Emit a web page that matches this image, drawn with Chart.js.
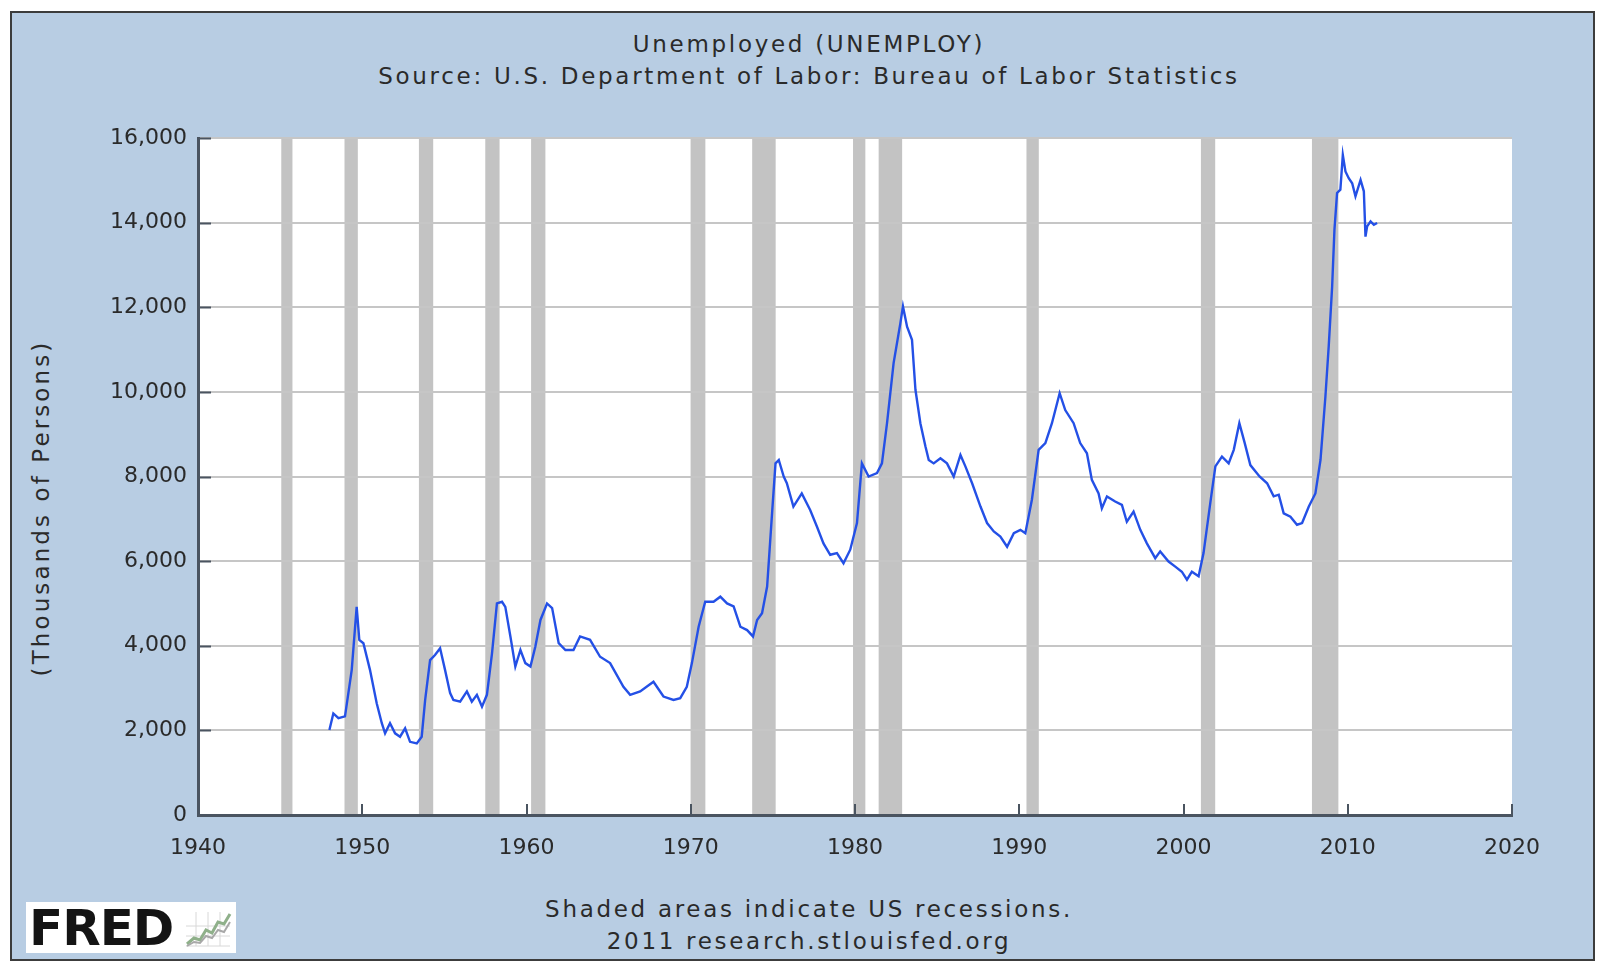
<!DOCTYPE html>
<html>
<head>
<meta charset="utf-8">
<script src="https://cdn.jsdelivr.net/npm/chart.js@4.4.0/dist/chart.umd.min.js"></script>
<style>
  html, body { margin: 0; padding: 0; background: #fff; }
  body { width: 1598px; height: 963px; position: relative; overflow: hidden;
         font-family: "DejaVu Sans", Verdana, sans-serif; color: #2a2a2a; }
  #frame { position: absolute; left: 10px; top: 11px; width: 1585px; height: 950px;
           background: #b8cde3; border: 2px solid #3c3c3c; box-sizing: border-box; }
  canvas { position: absolute; left: 0; top: 0; }
  .txt { position: absolute; left: 0; width: 1618px; text-align: center; font-size: 23px;
         line-height: 28px; letter-spacing: 2.7px; white-space: nowrap; color: #2a2a2a; }
  #ytitle { position: absolute; left: -159px; top: 494px; width: 400px; height: 28px; line-height: 28px;
            text-align: center; font-size: 23px; letter-spacing: 3.1px; white-space: nowrap;
            transform: rotate(-90deg); color: #2a2a2a; }
  #logo { position: absolute; left: 26px; top: 902px; width: 210px; height: 51px; background: #fff; }
  #logo span { position: absolute; left: 3px; top: -4px; font-family: "DejaVu Sans", sans-serif;
               font-weight: bold; font-size: 50px; letter-spacing: -1px; color: #141414; line-height: 60px; }
  #logo svg { position: absolute; left: 158px; top: 6px; }
</style>
</head>
<body>
<div id="frame"></div>
<div class="txt" style="top:30px">Unemployed (UNEMPLOY)</div>
<div class="txt" style="top:62px">Source: U.S. Department of Labor: Bureau of Labor Statistics</div>
<div class="txt" style="top:895px">Shaded areas indicate US recessions.</div>
<div class="txt" style="top:927px">2011 research.stlouisfed.org</div>
<div id="ytitle">(Thousands of Persons)</div>
<div id="logo"><span>FRED</span>
  <svg width="48" height="40" viewBox="0 0 48 40">
    <path d="M2 38 H46 M2 28 H46 M2 18 H46 M12 4 V38 M24 4 V38 M36 4 V38" stroke="#d8d8d8" stroke-width="1"/>
    <polyline points="3,36 10,30 16,32 22,22 28,25 34,14 40,16 46,6" fill="none" stroke="#8fb08a" stroke-width="3"/>
    <polyline points="3,38 10,34 16,35 22,28 28,30 34,22 40,24 46,14" fill="none" stroke="#a8a8a8" stroke-width="2"/>
  </svg>
</div>
<canvas id="c" width="1598" height="963"></canvas>
<script>
// Unemployed persons, thousands (decimal year)
let years = [
  1948.00, 1948.24, 1948.55, 1948.95, 1949.36, 1949.66, 1949.82, 1950.07, 1950.47, 1950.88,
  1951.19, 1951.39, 1951.69, 1952.00, 1952.30, 1952.61, 1952.91, 1953.32, 1953.62, 1953.83,
  1954.13, 1954.43, 1954.74, 1955.04, 1955.35, 1955.55, 1955.96, 1956.37, 1956.67, 1956.98,
  1957.29, 1957.59, 1957.90, 1958.20, 1958.51, 1958.71, 1959.02, 1959.32, 1959.63, 1959.93,
  1960.24, 1960.54, 1960.85, 1961.25, 1961.56, 1961.96, 1962.37, 1962.86, 1963.26, 1963.87,
  1964.48, 1965.09, 1965.90, 1966.31, 1966.92, 1967.73, 1968.34, 1968.95, 1969.36, 1969.76,
  1970.07, 1970.48, 1970.88, 1971.39, 1971.80, 1972.21, 1972.61, 1973.02, 1973.43, 1973.79,
  1974.04, 1974.34, 1974.65, 1974.95, 1975.16, 1975.36, 1975.66, 1975.85, 1976.25, 1976.76,
  1977.27, 1977.68, 1978.08, 1978.49, 1978.90, 1979.30, 1979.71, 1980.12, 1980.42, 1980.83,
  1981.34, 1981.64, 1981.95, 1982.35, 1982.76, 1982.92, 1983.17, 1983.47, 1983.68, 1983.98,
  1984.29, 1984.49, 1984.79, 1985.20, 1985.60, 1986.01, 1986.42, 1986.72, 1987.13, 1987.64,
  1988.04, 1988.45, 1988.85, 1989.26, 1989.67, 1990.07, 1990.37, 1990.77, 1991.18, 1991.59,
  1991.99, 1992.46, 1992.80, 1993.31, 1993.71, 1994.12, 1994.42, 1994.83, 1995.03, 1995.34,
  1995.84, 1996.25, 1996.55, 1996.96, 1997.37, 1997.77, 1998.28, 1998.58, 1999.09, 1999.50,
  1999.90, 2000.21, 2000.51, 2000.92, 2001.22, 2001.63, 2001.94, 2002.34, 2002.75, 2003.06,
  2003.40, 2003.72, 2004.07, 2004.63, 2005.09, 2005.49, 2005.80, 2006.10, 2006.51, 2006.91,
  2007.22, 2007.63, 2008.03, 2008.34, 2008.64, 2008.84, 2009.05, 2009.19, 2009.35, 2009.55,
  2009.70, 2009.86, 2010.06, 2010.27, 2010.47, 2010.78, 2010.98, 2011.08, 2011.18, 2011.39,
  2011.59, 2011.79
];
let unemployed = [
  2010, 2400, 2290, 2330, 3430, 4920, 4140, 4060, 3430, 2640,
  2170, 1930, 2170, 1930, 1850, 2050, 1730, 1690, 1850, 2720,
  3660, 3780, 3940, 3430, 2880, 2720, 2680, 2920, 2680, 2840,
  2560, 2840, 3820, 5000, 5040, 4920, 4220, 3510, 3900, 3590,
  3510, 3980, 4610, 5000, 4890, 4060, 3900, 3900, 4220, 4140,
  3740, 3590, 3030, 2840, 2920, 3150, 2800, 2720, 2760, 3030,
  3590, 4450, 5040, 5040, 5160, 5000, 4930, 4450, 4370, 4220,
  4610, 4770, 5400, 7130, 8310, 8390, 8000, 7840, 7290, 7600,
  7210, 6820, 6420, 6150, 6190, 5950, 6270, 6900, 8310, 8000,
  8080, 8310, 9260, 10680, 11620, 12020, 11540, 11230, 10050, 9260,
  8710, 8390, 8310, 8430, 8310, 8000, 8510, 8240, 7840, 7290,
  6900, 6700, 6580, 6340, 6660, 6740, 6660, 7450, 8630, 8790,
  9260, 9970, 9570, 9260, 8790, 8550, 7920, 7600, 7250, 7530,
  7410, 7330, 6930, 7170, 6740, 6420, 6070, 6230, 5990, 5870,
  5750, 5560, 5750, 5640, 6190, 7370, 8240, 8470, 8310, 8630,
  9260, 8800, 8270, 8000, 7840, 7530, 7570, 7130, 7050, 6860,
  6900, 7290, 7600, 8390, 9890, 11070, 12490, 13830, 14700, 14780,
  15600, 15210, 15050, 14930, 14620, 15010, 14740, 13670, 13910, 14030,
  13950, 13990
];

// US recessions (shaded bands)
let recStart = [1945.07, 1948.92, 1953.45, 1957.49, 1960.28, 1969.99, 1973.74, 1979.88, 1981.44, 1990.44, 2001.06, 2007.82];
let recEnd   = [1945.75, 1949.73, 1954.32, 1958.36, 1961.15, 1970.89, 1975.17, 1980.63, 1982.87, 1991.19, 2001.93, 2009.43];

let xTicks = [1940, 1950, 1960, 1970, 1980, 1990, 2000, 2010, 2020];
let yTicks = [0, 2000, 4000, 6000, 8000, 10000, 12000, 14000, 16000];

const axisColor = '#4a5460';

const backdrop = {
  id: 'backdrop',
  beforeDraw(chart) {
    const {ctx, chartArea: a, scales: {x}} = chart;
    ctx.save();
    ctx.fillStyle = '#ffffff';
    ctx.fillRect(a.left, a.top, a.right - a.left, a.bottom - a.top);
    ctx.fillStyle = '#c3c3c3';
    recStart.forEach((s, i) => {
      const x0 = x.getPixelForValue(s);
      const x1 = x.getPixelForValue(recEnd[i]);
      ctx.fillRect(x0, a.top, x1 - x0, a.bottom - a.top);
    });
    ctx.restore();
  },
  afterDraw(chart) {
    // short tick marks pointing into the plot
    const {ctx, chartArea: a, scales: {x, y}} = chart;
    ctx.save();
    ctx.strokeStyle = axisColor;
    ctx.lineWidth = 2;
    ctx.beginPath();
    yTicks.forEach(v => {
      const py = Math.round(y.getPixelForValue(v)) + 0.5;
      ctx.moveTo(a.left, py);
      ctx.lineTo(a.left + 13, py);
    });
    xTicks.forEach(v => {
      const px = Math.round(x.getPixelForValue(v));
      ctx.moveTo(px, a.bottom);
      ctx.lineTo(px, a.bottom - 11);
    });
    ctx.stroke();
    ctx.restore();
  }
};

new Chart(document.getElementById('c'), {
  type: 'line',
  data: {
    datasets: [{
      data: years.map((t, i) => ({x: t, y: unemployed[i]})),
      borderColor: '#2450e6',
      borderWidth: 2.4,
      pointRadius: 0,
      tension: 0,
      fill: false
    }]
  },
  options: {
    responsive: false,
    animation: false,
    devicePixelRatio: 1,
    layout: {padding: {top: 138, right: 86, left: 0, bottom: 0}},
    plugins: {legend: {display: false}, tooltip: {enabled: false}},
    scales: {
      x: {
        type: 'linear', min: 1940, max: 2020,
        afterBuildTicks: s => { s.ticks = xTicks.map(v => ({value: v})); },
        afterFit: s => { s.height = 148; },
        ticks: {callback: v => String(v), color: '#2a2a2a', font: {family: 'DejaVu Sans', size: 22},
                padding: 20, maxRotation: 0, autoSkip: false},
        grid: {display: false, drawTicks: false},
        border: {color: axisColor, width: 3}
      },
      y: {
        min: 0, max: 16000,
        afterBuildTicks: s => { s.ticks = yTicks.map(v => ({value: v})); },
        afterFit: s => { s.width = 198; },
        ticks: {callback: v => v.toLocaleString('en-US'), color: '#2a2a2a', font: {family: 'DejaVu Sans', size: 22},
                padding: 11, autoSkip: false},
        grid: {color: '#c6c6c6', lineWidth: 2, drawTicks: false},
        border: {color: axisColor, width: 3}
      }
    }
  },
  plugins: [backdrop]
});
</script>
</body>
</html>
